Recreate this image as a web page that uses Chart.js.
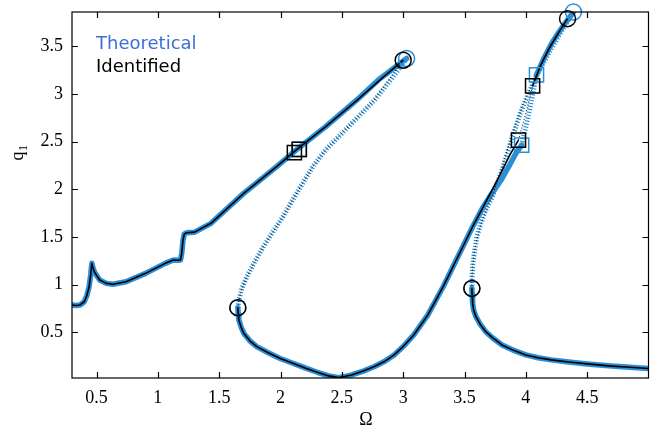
<!DOCTYPE html>
<html>
<head>
<meta charset="utf-8">
<script src="https://cdn.jsdelivr.net/npm/chart.js@4.4.1/dist/chart.umd.min.js"></script>
<style>
  html, body { margin: 0; padding: 0; background: #fff; overflow: hidden; }
  #wrap { width: 660px; height: 429px; }
</style>
</head>
<body>
<div id="wrap"><canvas id="chart" width="660" height="429"></canvas></div>
<script>
// Ticks
const xTicks = [0.5, 1, 1.5, 2, 2.5, 3, 3.5, 4, 4.5];
const yTicks = [0.5, 1, 1.5, 2, 2.5, 3, 3.5];

// Theoretical - first resonance, stable upper branch
const thUpper1X = [0.3, 0.33, 0.366, 0.4, 0.42, 0.44, 0.452, 0.462, 0.472, 0.486, 0.526, 0.58, 0.633, 0.74, 0.9, 1.06, 1.126, 1.17, 1.185, 1.195, 1.205, 1.215, 1.233, 1.3, 1.433, 1.7, 1.966, 2.126, 2.366, 2.62, 2.8, 3.028];
const thUpper1Y = [0.786, 0.78, 0.786, 0.82, 0.88, 0.98, 1.1, 1.223, 1.17, 1.125, 1.048, 1.013, 1.003, 1.03, 1.118, 1.223, 1.258, 1.255, 1.26, 1.33, 1.467, 1.53, 1.544, 1.55, 1.643, 1.957, 2.236, 2.411, 2.655, 2.935, 3.15, 3.372];
// Theoretical - first resonance, unstable branch
const thUnst1X = [3.028, 2.9, 2.766, 2.606, 2.48, 2.366, 2.27, 2.18, 2.1, 2.02, 1.94, 1.86, 1.79, 1.726, 1.685, 1.66, 1.652];
const thUnst1Y = [3.372, 3.15, 2.935, 2.725, 2.56, 2.411, 2.25, 2.062, 1.89, 1.712, 1.555, 1.397, 1.24, 1.083, 0.96, 0.839, 0.758];
// Theoretical - lower stable branch up to second resonance square
const thLowerX = [1.652, 1.655, 1.66, 1.68, 1.7, 1.75, 1.806, 1.9, 1.993, 2.1, 2.206, 2.3, 2.393, 2.473, 2.52, 2.58, 2.68, 2.766, 2.85, 2.926, 3.0, 3.086, 3.2, 3.326, 3.433, 3.566, 3.646, 3.72, 3.8, 3.87, 3.92, 3.966];
const thLowerY = [0.758, 0.69, 0.629, 0.55, 0.49, 0.41, 0.349, 0.285, 0.227, 0.175, 0.123, 0.08, 0.042, 0.024, 0.035, 0.052, 0.095, 0.14, 0.195, 0.262, 0.35, 0.472, 0.68, 0.978, 1.258, 1.607, 1.8, 1.95, 2.1, 2.26, 2.38, 2.464];
// Theoretical - second resonance, unstable middle piece between squares
const thMid2X = [3.966, 3.99, 4.022, 4.055, 4.087];
const thMid2Y = [2.464, 2.6, 2.78, 2.99, 3.2];
// Theoretical - second resonance, stable upper piece
const thUpper2X = [4.087, 4.15, 4.21, 4.27, 4.33, 4.388];
const thUpper2Y = [3.2, 3.38, 3.53, 3.65, 3.76, 3.86];
// Theoretical - second resonance, unstable return branch
const thUnst2X = [4.388, 4.3, 4.2, 4.1, 4.02, 3.95, 3.873, 3.806, 3.726, 3.673, 3.633, 3.6, 3.58, 3.566, 3.561, 3.56];
const thUnst2Y = [3.86, 3.68, 3.46, 3.22, 3.005, 2.78, 2.48, 2.2, 1.92, 1.782, 1.643, 1.5, 1.33, 1.188, 1.06, 0.96];
// Lower stable branch after second resonance
const tailX = [3.56, 3.562, 3.566, 3.575, 3.593, 3.63, 3.673, 3.73, 3.806, 3.9, 4.0, 4.1, 4.206, 4.35, 4.5, 4.7, 4.85, 5.0];
const tailY = [0.96, 0.9, 0.804, 0.73, 0.664, 0.58, 0.506, 0.44, 0.367, 0.31, 0.262, 0.232, 0.21, 0.188, 0.168, 0.145, 0.132, 0.12];

// Identified curve where it differs from the theoretical one
const idUpper1X = [0.3, 0.33, 0.366, 0.4, 0.42, 0.44, 0.452, 0.462, 0.472, 0.486, 0.526, 0.58, 0.633, 0.74, 0.9, 1.06, 1.126, 1.17, 1.185, 1.195, 1.205, 1.215, 1.233, 1.3, 1.433, 1.7, 1.966, 2.126, 2.366, 2.62, 2.8, 3.0];
const idUpper1Y = [0.786, 0.78, 0.786, 0.82, 0.88, 0.98, 1.1, 1.223, 1.17, 1.125, 1.048, 1.013, 1.003, 1.03, 1.118, 1.223, 1.258, 1.255, 1.26, 1.33, 1.467, 1.53, 1.544, 1.55, 1.643, 1.957, 2.236, 2.411, 2.655, 2.93, 3.135, 3.354];
const idUnst1X = [3.0, 2.88, 2.76, 2.6, 2.48, 2.366, 2.27, 2.18, 2.1, 2.02, 1.94, 1.86, 1.79, 1.726, 1.685, 1.66, 1.652];
const idUnst1Y = [3.354, 3.14, 2.93, 2.72, 2.56, 2.411, 2.25, 2.062, 1.89, 1.712, 1.555, 1.397, 1.24, 1.083, 0.96, 0.839, 0.758];
const idLowerX = [1.652, 1.655, 1.66, 1.68, 1.7, 1.75, 1.806, 1.9, 1.993, 2.1, 2.206, 2.3, 2.393, 2.473, 2.52, 2.58, 2.68, 2.766, 2.85, 2.926, 3.0, 3.086, 3.2, 3.326, 3.433, 3.566, 3.646, 3.72, 3.8, 3.87, 3.94];
const idLowerY = [0.758, 0.69, 0.629, 0.55, 0.49, 0.41, 0.349, 0.285, 0.227, 0.175, 0.123, 0.08, 0.042, 0.024, 0.035, 0.052, 0.095, 0.14, 0.195, 0.262, 0.35, 0.472, 0.68, 0.978, 1.258, 1.607, 1.8, 1.98, 2.18, 2.36, 2.516];
const idMid2X = [3.94, 4.0, 4.055];
const idMid2Y = [2.516, 2.8, 3.085];
const idUpper2X = [4.055, 4.12, 4.19, 4.26, 4.34];
const idUpper2Y = [3.085, 3.3, 3.48, 3.63, 3.79];
const idUnst2X = [4.34, 4.25, 4.15, 4.06, 3.98, 3.9, 3.83, 3.76, 3.69, 3.64, 3.6, 3.575, 3.565, 3.56, 3.56];
const idUnst2Y = [3.79, 3.6, 3.36, 3.12, 2.9, 2.62, 2.33, 2.05, 1.82, 1.66, 1.47, 1.3, 1.15, 1.06, 0.96];

// Bifurcation markers
const thCircleX = [3.028, 1.652, 4.388, 3.56];
const thCircleY = [3.372, 0.758, 3.86, 0.96];
const idCircleX = [3.0, 1.652, 4.34, 3.56];
const idCircleY = [3.354, 0.758, 3.79, 0.96];
const thSquareX = [2.153, 3.966, 4.087];
const thSquareY = [2.418, 2.464, 3.2];
const idSquareX = [2.113, 2.153, 3.94, 4.055];
const idSquareY = [2.385, 2.418, 2.516, 3.085];

const blue = '#2a8fd6';
const legendBlue = '#3d6fd6';

function pts(xs, ys) {
    return xs.map((x, i) => ({ x: x, y: ys[i] }));
}

function stableTh(xs, ys) {
    return { data: pts(xs, ys), showLine: true, borderColor: blue, borderWidth: 5.5,
             pointRadius: 0, tension: 0, order: 5, borderJoinStyle: 'round', borderCapStyle: 'round' };
}
function unstableTh(xs, ys) {
    return { data: pts(xs, ys), showLine: true, borderColor: blue, borderWidth: 5,
             borderDash: [1.2, 1.8], pointRadius: 0, tension: 0, order: 5 };
}
function stableId(xs, ys) {
    return { data: pts(xs, ys), showLine: true, borderColor: '#000', borderWidth: 1.6,
             pointRadius: 0, tension: 0, order: 3, borderJoinStyle: 'round' };
}
function unstableId(xs, ys) {
    return { data: pts(xs, ys), showLine: true, borderColor: '#000', borderWidth: 1,
             borderDash: [1, 2], pointRadius: 0, tension: 0, order: 3 };
}
function markers(xs, ys, style, radius, color, order) {
    return { data: pts(xs, ys), showLine: false, pointStyle: style, pointRadius: radius,
             pointBorderColor: color, pointBackgroundColor: 'rgba(0,0,0,0)', pointBorderWidth: 1.5,
             order: order, clip: false };
}

// Box, inward ticks, axis titles and text legend
const frame = {
    id: 'frame',
    afterDraw(chart) {
        const ctx = chart.ctx;
        const a = chart.chartArea;
        const xs = chart.scales.x, ys = chart.scales.y;
        ctx.save();
        ctx.strokeStyle = '#000';
        ctx.lineWidth = 1.2;
        ctx.strokeRect(a.left, a.top, a.right - a.left, a.bottom - a.top);
        ctx.beginPath();
        xTicks.forEach(v => {
            const px = Math.round(xs.getPixelForValue(v)) + 0.5;
            ctx.moveTo(px, a.bottom); ctx.lineTo(px, a.bottom - 6);
            ctx.moveTo(px, a.top); ctx.lineTo(px, a.top + 6);
        });
        yTicks.forEach(v => {
            const py = Math.round(ys.getPixelForValue(v)) + 0.5;
            ctx.moveTo(a.left, py); ctx.lineTo(a.left + 6, py);
            ctx.moveTo(a.right, py); ctx.lineTo(a.right - 6, py);
        });
        ctx.stroke();

        ctx.fillStyle = '#000';
        ctx.font = '18px "Liberation Serif"';
        ctx.textAlign = 'center';
        ctx.textBaseline = 'middle';
        ctx.fillText('Ω', 366, 420);

        ctx.translate(19, 156);
        ctx.rotate(-Math.PI / 2);
        ctx.font = '18px "Liberation Serif"';
        ctx.textAlign = 'center';
        ctx.textBaseline = 'alphabetic';
        ctx.fillText('q', 0, 4);
        ctx.font = '12px "Liberation Serif"';
        ctx.textAlign = 'left';
        ctx.fillText('1', 5, 8);
        ctx.setTransform(1, 0, 0, 1, 0, 0);

        ctx.font = '18px "DejaVu Sans"';
        ctx.textAlign = 'left';
        ctx.textBaseline = 'alphabetic';
        ctx.fillStyle = legendBlue;
        ctx.fillText('Theoretical', 96, 49);
        ctx.fillStyle = '#000';
        ctx.fillText('Identified', 96, 72);
        ctx.restore();
    }
};

const datasets = [
    stableTh(thUpper1X, thUpper1Y),
    unstableTh(thUnst1X, thUnst1Y),
    stableTh(thLowerX, thLowerY),
    unstableTh(thMid2X, thMid2Y),
    stableTh(thUpper2X, thUpper2Y),
    unstableTh(thUnst2X, thUnst2Y),
    stableTh(tailX, tailY),
    stableId(idUpper1X, idUpper1Y),
    unstableId(idUnst1X, idUnst1Y),
    stableId(idLowerX, idLowerY),
    unstableId(idMid2X, idMid2Y),
    stableId(idUpper2X, idUpper2Y),
    unstableId(idUnst2X, idUnst2Y),
    stableId(tailX, tailY),
    markers(thCircleX, thCircleY, 'circle', 8, blue, 2),
    markers(thSquareX, thSquareY, 'rect', 10, blue, 2),
    markers(idCircleX, idCircleY, 'circle', 8, '#000', 0),
    markers(idSquareX, idSquareY, 'rect', 10, '#000', 0)
];

const tickLabel = v => String(v);

new Chart(document.getElementById('chart'), {
    type: 'scatter',
    data: { datasets: datasets },
    options: {
        responsive: false,
        animation: false,
        events: [],
        devicePixelRatio: 1,
        layout: { padding: { top: 12, right: 1, left: 0, bottom: 0 } },
        plugins: { legend: { display: false }, tooltip: { enabled: false } },
        scales: {
            x: {
                type: 'linear', min: 0.3, max: 5,
                grid: { display: false, drawTicks: false },
                border: { display: false },
                afterBuildTicks: s => { s.ticks = xTicks.map(v => ({ value: v })); },
                afterFit: s => { s.height = 51; s.paddingLeft = 0; s.paddingRight = 0; },
                ticks: { color: '#000', padding: 9, maxRotation: 0, callback: tickLabel,
                         font: { family: '"Liberation Serif"', size: 18 } }
            },
            y: {
                type: 'linear', min: 0.02, max: 3.86,
                grid: { display: false, drawTicks: false },
                border: { display: false },
                afterBuildTicks: s => { s.ticks = yTicks.map(v => ({ value: v })); },
                afterFit: s => { s.width = 72; s.paddingTop = 0; s.paddingBottom = 0; },
                ticks: { color: '#000', padding: 9, callback: tickLabel,
                         font: { family: '"Liberation Serif"', size: 18 } }
            }
        }
    },
    plugins: [frame]
});
</script>
</body>
</html>
